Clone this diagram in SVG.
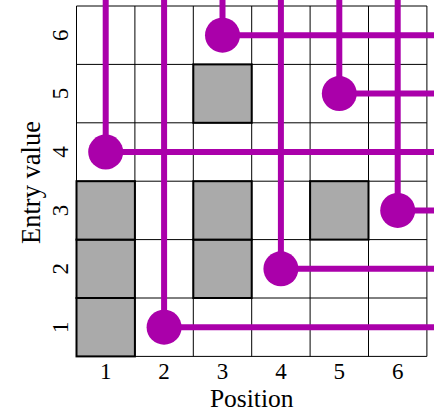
<svg xmlns="http://www.w3.org/2000/svg" width="434" height="412" viewBox="0 0 434 412">
<style>
.grid{stroke:#000;stroke-width:1;fill:none}
.blk{fill:#aaaaaa;stroke:#000;stroke-width:2}
.wire{stroke:#aa00aa;stroke-width:6;fill:none}
.dot{fill:#aa00aa}
.tick{font-family:"Liberation Serif","Times New Roman",serif;font-size:23px;fill:#000;text-anchor:middle}
.lab{font-family:"Liberation Serif","Times New Roman",serif;font-size:25.5px;fill:#000;text-anchor:middle}
.ylab{font-size:26.5px}
</style>
<rect width="434" height="412" fill="#fff"/>
<g id="grid" class="grid">
<path d="M76.5 6V356.4M134.9 6V356.4M193.3 6V356.4M251.7 6V356.4M310.1 6V356.4M368.5 6V356.4M426.9 6V356.4"/>
<path d="M76.5 6H426.9M76.5 64.4H426.9M76.5 122.8H426.9M76.5 181.2H426.9M76.5 239.6H426.9M76.5 298H426.9M76.5 356.4H426.9"/>
</g>
<g id="blocks">
<rect id="b11" class="blk" x="76.5" y="298" width="58.4" height="58.4"/>
<rect id="b12" class="blk" x="76.5" y="239.6" width="58.4" height="58.4"/>
<rect id="b13" class="blk" x="76.5" y="181.2" width="58.4" height="58.4"/>
<rect id="b32" class="blk" x="193.3" y="239.6" width="58.4" height="58.4"/>
<rect id="b33" class="blk" x="193.3" y="181.2" width="58.4" height="58.4"/>
<rect id="b35" class="blk" x="193.3" y="64.4" width="58.4" height="58.4"/>
<rect id="b53" class="blk" x="310.1" y="181.2" width="58.4" height="58.4"/>
</g>
<g id="connectors" class="wire">
<path d="M105.7 152V0M105.7 152H434"/>
<path d="M164.1 327.2V0M164.1 327.2H434"/>
<path d="M222.5 35.2V0M222.5 35.2H434"/>
<path d="M280.9 268.8V0M280.9 268.8H434"/>
<path d="M339.3 93.6V0M339.3 93.6H434"/>
<path d="M397.7 210.4V0M397.7 210.4H434"/>
</g>
<g id="n1"><circle class="dot" cx="105.7" cy="152" r="17.5"/></g>
<g id="n2"><circle class="dot" cx="164.1" cy="327.2" r="17.5"/></g>
<g id="n3"><circle class="dot" cx="222.5" cy="35.2" r="17.5"/></g>
<g id="n4"><circle class="dot" cx="280.9" cy="268.8" r="17.5"/></g>
<g id="n5"><circle class="dot" cx="339.3" cy="93.6" r="17.5"/></g>
<g id="n6"><circle class="dot" cx="397.7" cy="210.4" r="17.5"/></g>
<g id="xticks" class="tick">
<text x="105.7" y="378.5">1</text>
<text x="164.1" y="378.5">2</text>
<text x="222.5" y="378.5">3</text>
<text x="280.9" y="378.5">4</text>
<text x="339.3" y="378.5">5</text>
<text x="397.7" y="378.5">6</text>
</g>
<g id="yticks" class="tick">
<text transform="translate(68 327.2) rotate(-90)">1</text>
<text transform="translate(68 268.8) rotate(-90)">2</text>
<text transform="translate(68 210.4) rotate(-90)">3</text>
<text transform="translate(68 152) rotate(-90)">4</text>
<text transform="translate(68 93.6) rotate(-90)">5</text>
<text transform="translate(68 35.2) rotate(-90)">6</text>
</g>
<g id="labels" class="lab">
<text x="251.7" y="406.5">Position</text>
<text class="ylab" transform="translate(40 182.5) rotate(-90)">Entry value</text>
</g>
</svg>
